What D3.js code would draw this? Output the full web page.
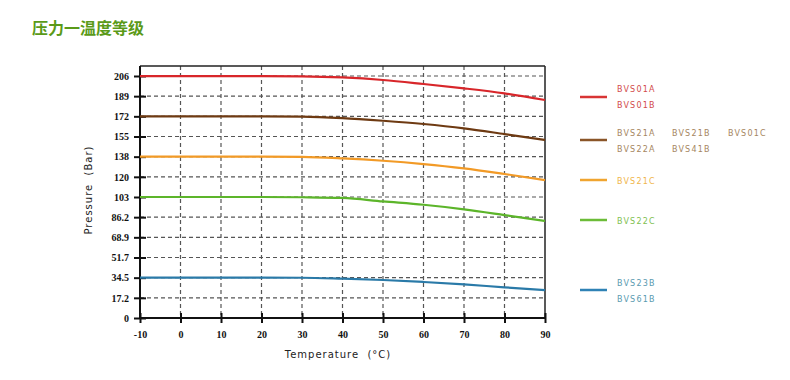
<!DOCTYPE html>
<html><head><meta charset="utf-8">
<script src="https://cdn.jsdelivr.net/npm/d3@7"></script>
<style>body{margin:0;background:#fff}</style>
</head><body><svg id="c" width="790" height="380"></svg>
<script>
const temps = [-10,0,10,20,30,40,50,60,70,80,90];
const redVals    = [206.8,206.8,206.8,206.8,206.6,205.6,203.4,200.0,196.3,192.0,186.3];
const brownVals  = [172.4,172.4,172.4,172.4,172.2,170.9,168.6,165.8,162.1,157.2,152.1];
const orangeVals = [137.9,137.9,137.9,137.9,137.7,136.4,134.4,131.6,127.9,123.1,117.9];
const greenVals  = [103.4,103.4,103.4,103.4,103.2,102.6,99.6,96.8,92.9,88.0,82.9];
const blueVals   = [34.5,34.5,34.5,34.5,34.4,33.6,32.5,30.8,28.8,26.2,23.9];
const yTickVals  = [0,17.24,34.47,51.71,68.95,86.18,103.42,120.66,137.9,155.13,172.37,189.61,206.84];
const yTickLabels= ["0","17.2","34.5","51.7","68.9","86.2","103","120","138","155","172","189","206"];
const xTicks = [-10,0,10,20,30,40,50,60,70,80,90];

const series = [
  {vals:redVals, color:"#d8262a", legColor:"#d83535", textColor:"#d24a4a", ly:97, labels:[["BVS01A",0,89],["BVS01B",0,105]]},
  {vals:brownVals, color:"#6e3a12", legColor:"#8a5528", textColor:"#a58560", ly:140, labels:[["BVS21A",0,133],["BVS21B",1,133],["BVS01C",2,133],["BVS22A",0,149],["BVS41B",1,149]]},
  {vals:orangeVals, color:"#f29a26", legColor:"#f0a530", textColor:"#f0b54a", ly:180, labels:[["BVS21C",0,181]]},
  {vals:greenVals, color:"#5cb52a", legColor:"#6cbc38", textColor:"#80c050", ly:220, labels:[["BVS22C",0,221]]},
  {vals:blueVals, color:"#2a7aa8", legColor:"#2f82b5", textColor:"#5a9ab0", ly:290, labels:[["BVS23B",0,283],["BVS61B",0,299]]}
];

const svg = d3.select("#c");
const x = d3.scaleLinear().domain([-10,90]).range([140,545]);
const y = d3.scaleLinear().domain([0,206.84]).range([318,76]);
const topY = y(215.46);

// title
svg.append("text").attr("x",32).attr("y",34).attr("font-family","Noto Sans CJK SC")
  .attr("font-weight","bold").attr("font-size",16).attr("fill","#5a9a18").text("压力一温度等级");

// grid
const g = svg.append("g");
g.selectAll(".hg").data(yTickVals.slice(1)).join("line")
  .attr("x1",x(-10)).attr("x2",x(90)).attr("y1",d=>y(d)).attr("y2",d=>y(d))
  .attr("stroke","#555").attr("stroke-width",1.2).attr("stroke-dasharray","4,3");
g.selectAll(".vg").data(xTicks.slice(1,-1)).join("line")
  .attr("x1",d=>x(d)).attr("x2",d=>x(d)).attr("y1",topY).attr("y2",y(0))
  .attr("stroke","#555").attr("stroke-width",1.2).attr("stroke-dasharray","4,3");

// frame top/right
svg.append("line").attr("x1",x(-10)).attr("x2",x(90)).attr("y1",topY).attr("y2",topY).attr("stroke","#222").attr("stroke-width",1.5);
svg.append("line").attr("x1",x(90)).attr("x2",x(90)).attr("y1",topY).attr("y2",y(0)).attr("stroke","#222").attr("stroke-width",1.5);

// axes
const yAxis = d3.axisLeft(y).tickValues(yTickVals).tickFormat((d,i)=>yTickLabels[i]).tickSize(6).tickPadding(5);
const ya = svg.append("g").attr("transform",`translate(${x(-10)},0)`).call(yAxis);
ya.select(".domain").attr("d",`M0,${topY}V${y(0)}`).attr("stroke","#111").attr("stroke-width",2);
ya.selectAll(".tick line").attr("x1",-6).attr("x2",6).attr("stroke","#111").attr("stroke-width",2);
ya.selectAll("text").attr("font-family","Liberation Serif").attr("font-weight","bold").attr("font-size",10).attr("fill","#111");

const xAxis = d3.axisBottom(x).tickValues(xTicks).tickFormat(d=>String(d)).tickSize(5).tickPadding(8);
const xa = svg.append("g").attr("transform",`translate(0,${y(0)})`).call(xAxis);
xa.select(".domain").attr("d",`M${x(-10)},0H${x(90)}`).attr("stroke","#111").attr("stroke-width",2);
xa.selectAll(".tick line").attr("y1",-5).attr("y2",5).attr("stroke","#111").attr("stroke-width",2);
xa.selectAll("text").attr("font-family","Liberation Serif").attr("font-weight","bold").attr("font-size",10).attr("fill","#111");

// lines
const line = d3.line().x((d,i)=>x(temps[i])).y(d=>y(d)).curve(d3.curveMonotoneX);
series.forEach(s=>{
  svg.append("path").attr("d",line(s.vals)).attr("fill","none").attr("stroke",s.color).attr("stroke-width",2.2);
});

// axis titles
svg.append("text").attr("transform","translate(92,190) rotate(-90)").attr("text-anchor","middle")
  .attr("font-family","DejaVu Sans").attr("font-size",10).attr("letter-spacing",1).attr("fill","#222").attr("xml:space","preserve").text("Pressure  (Bar)");
svg.append("text").attr("x",338).attr("y",358).attr("text-anchor","middle")
  .attr("font-family","DejaVu Sans").attr("font-size",10).attr("letter-spacing",1).attr("fill","#222").attr("xml:space","preserve").text("Temperature  (°C)");

// legend
const colX = [617,672,728];
series.forEach(s=>{
  svg.append("line").attr("x1",580).attr("x2",607).attr("y1",s.ly).attr("y2",s.ly).attr("stroke",s.legColor).attr("stroke-width",2.5);
  s.labels.forEach(([t,c,yy])=>{
    svg.append("text").attr("x",colX[c]).attr("y",yy+3).attr("font-family","DejaVu Sans").attr("font-size",8)
      .attr("letter-spacing",1.2).attr("fill",s.textColor).text(t);
  });
});
</script></body></html>
